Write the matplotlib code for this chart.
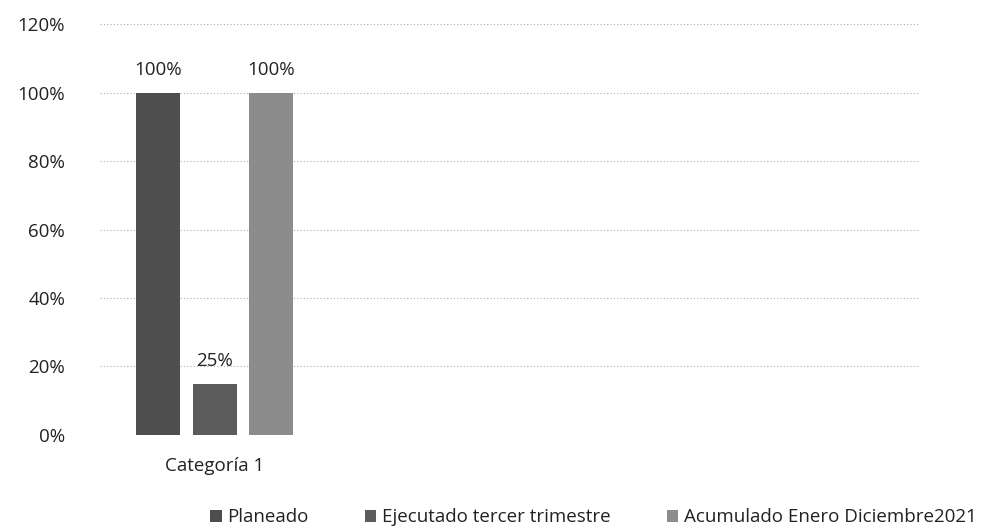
import matplotlib
matplotlib.use("Agg")
import matplotlib.pyplot as plt
from matplotlib.ticker import FuncFormatter

plt.rcParams['font.family'] = ['Open Sans', 'DejaVu Sans']

categories = ["Categoría 1"]
series = ["Planeado", "Ejecutado tercer trimestre", "Acumulado Enero Diciembre2021"]
values = [1.00, 0.15, 1.00]
value_labels = ["100%", "25%", "100%"]
colors = ["#4e4e4e", "#5c5c5c", "#8c8c8c"]
yticks = [0, 0.2, 0.4, 0.6, 0.8, 1.0, 1.2]

fig = plt.figure(figsize=(9.89, 5.31), dpi=100)
ax = fig.add_axes([0.101, 0.181, 0.829, 0.773])

offsets = [-0.33, 0.0, 0.33]
width = 0.258
for s, v, lab, c, off in zip(series, values, value_labels, colors, offsets):
    ax.bar(0 + off, v, width=width, color=c, label=s, zorder=3)
    ax.text(0 + off, v + 0.04, lab, ha='center', va='bottom', fontsize=13.5, color='#222222')

ax.set_xlim(-0.672, 4.12)
ax.set_ylim(0, 1.2)
ax.set_yticks(yticks)
ax.yaxis.set_major_formatter(FuncFormatter(lambda y, p: f"{round(y*100)}%"))
ax.set_xticks([0])
ax.set_xticklabels(categories)
ax.tick_params(axis='both', length=0, labelsize=13.5, colors='#222222')
ax.tick_params(axis='y', pad=25)
ax.tick_params(axis='x', pad=16)
for sp in ax.spines.values():
    sp.set_visible(False)
ax.grid(axis='y', color='#aaaaaa', linestyle=(0, (1, 2)), linewidth=0.8, zorder=0)

fig.legend(loc='center', bbox_to_anchor=(0.6, 0.026), ncol=3, frameon=False,
           fontsize=13.5, handlelength=0.6, handleheight=0.6, handletextpad=0.3,
           columnspacing=3.0, labelcolor='#222222')

fig.savefig("out.png", dpi=100)
